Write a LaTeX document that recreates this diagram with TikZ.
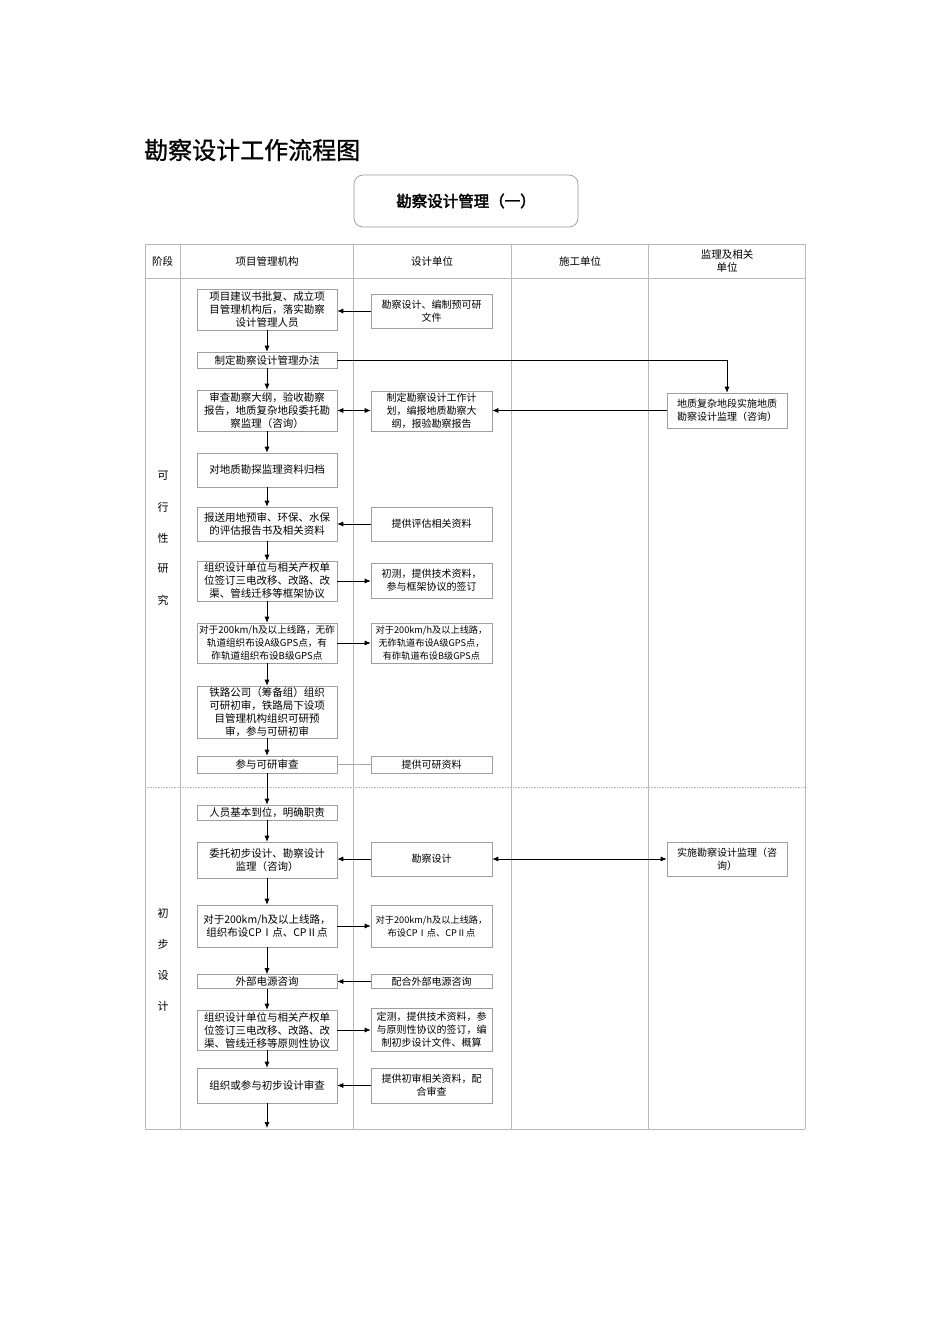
\documentclass[tikz,border=0pt]{standalone}
\usepackage{fontspec}
\setmainfont{Noto Sans CJK SC}
\newfontfamily\cjkbold[FakeBold=2.5]{Noto Sans CJK SC}
\newfontfamily\cjktitle[FakeBold=1]{Noto Sans CJK SC}
\usetikzlibrary{arrows.meta}
\tikzset{
  tline/.style={draw=gray!55, line width=0.6pt},
  box/.style={draw=gray!75, line width=0.6pt, align=center, inner sep=1pt, fill=white},
  lbox/.style={box, minimum width=140pt, font=\fontsize{10.5}{13}\selectfont},
  mbox/.style={box, minimum width=121pt, font=\fontsize{10}{13}\selectfont},
  rbox/.style={box, minimum width=120pt, font=\fontsize{10}{13}\selectfont},
  arr/.style={draw=black, line width=0.7pt, -{Latex[length=6pt,width=5pt]}},
  darr/.style={draw=black, line width=0.7pt, {Latex[length=6pt,width=5pt]}-{Latex[length=6pt,width=5pt]}},
  plain/.style={draw=gray!70, line width=0.6pt},
  phase/.style={font=\fontsize{11}{13}\selectfont},
  head/.style={font=\fontsize{10.5}{13}\selectfont, align=center}
}
\begin{document}
\begin{tikzpicture}[x=1pt,y=-1pt]
\useasboundingbox (0,0) rectangle (950,1344);
% title
\node[anchor=west, font=\cjktitle\fontsize{24}{28}\selectfont, inner sep=0] (title) at (144,150) {勘察设计工作流程图};
\node[draw=gray!80, line width=0.7pt, rounded corners=9pt, minimum width=224pt, minimum height=52pt, font=\cjkbold\fontsize{15.5}{18}\selectfont] (hdr) at (466,201) {勘察设计管理（一）};
% table frame
\draw[tline] (145,244) -- (805,244);
\draw[tline] (145,278) -- (805,278);
\draw[tline] (145,1129) -- (805,1129);
\foreach \x in {145,180,353,511,648,805} \draw[tline] (\x,244) -- (\x,1129);
\draw[draw=gray!55, line width=0.6pt, densely dotted] (145,787) -- (805,787);
% headers
\node[head] (h0) at (162.5,261) {阶段};
\node[head] (h1) at (267,261) {项目管理机构};
\node[head] (h2) at (432,261) {设计单位};
\node[head] (h3) at (580,261) {施工单位};
\node[head] (h4) at (727,261) {监理及相关\\单位};
% phase labels
\foreach \c/\y [count=\i] in {可/476,行/507,性/538,研/569,究/600}
  \node[phase] (pa\i) at (163,\y) {\c};
\foreach \c/\y [count=\i] in {初/913,步/944,设/975,计/1006}
  \node[phase] (pb\i) at (163,\y) {\c};
% left column
\node[lbox, minimum height=41pt] (L1) at (267,309.5) {项目建议书批复、成立项\\目管理机构后，落实勘察\\设计管理人员};
\node[lbox, minimum height=16pt] (L2) at (267,360) {制定勘察设计管理办法};
\node[lbox, minimum height=41pt] (L3) at (267,410.5) {审查勘察大纲，验收勘察\\报告，地质复杂地段委托勘\\察监理（咨询）};
\node[lbox, minimum height=34pt] (L4) at (267,470) {对地质勘探监理资料归档};
\node[lbox, minimum height=34pt] (L5) at (267,524) {报送用地预审、环保、水保\\的评估报告书及相关资料};
\node[lbox, minimum height=40pt] (L6) at (267,581) {组织设计单位与相关产权单\\位签订三电改移、改路、改\\渠、管线迁移等框架协议};
\node[lbox, minimum height=40pt, font=\fontsize{9.6}{13}\selectfont] (L7) at (267,643) {对于200km/h及以上线路，无砟\\轨道组织布设A级GPS点，有\\砟轨道组织布设B级GPS点};
\node[lbox, minimum height=52pt] (L8) at (267,712) {铁路公司（筹备组）组织\\可研初审，铁路局下设项\\目管理机构组织可研预\\审，参与可研初审};
\node[lbox, minimum height=17pt] (L9) at (267,764.5) {参与可研审查};
\node[lbox, minimum height=15pt] (L10) at (267,812.5) {人员基本到位，明确职责};
\node[lbox, minimum height=36pt] (L11) at (267,860) {委托初步设计、勘察设计\\监理（咨询）};
\node[lbox, minimum height=42pt] (L12) at (267,926) {对于200km/h及以上线路，\\组织布设CPⅠ点、CPⅡ点};
\node[lbox, minimum height=14pt] (L13) at (267,981.5) {外部电源咨询};
\node[lbox, minimum height=40pt] (L14) at (267,1030) {组织设计单位与相关产权单\\位签订三电改移、改路、改\\渠、管线迁移等原则性协议};
\node[lbox, minimum height=35pt] (L15) at (267,1085.5) {组织或参与初步设计审查};
\coordinate (Lend) at (267,1128);
% middle column
\node[mbox, minimum height=34pt] (M1) at (431.5,311) {勘察设计、编制预可研\\文件};
\node[mbox, minimum height=40pt] (M3) at (431.5,411) {制定勘察设计工作计\\划，编报地质勘察大\\纲，报验勘察报告};
\node[mbox, minimum height=34pt] (M5) at (431.5,524) {提供评估相关资料};
\node[mbox, minimum height=35pt] (M6) at (431.5,580.5) {初测，提供技术资料，\\参与框架协议的签订};
\node[mbox, minimum height=40pt, font=\fontsize{9.2}{13}\selectfont] (M7) at (431.5,643) {对于200km/h及以上线路，\\无砟轨道布设A级GPS点，\\有砟轨道布设B级GPS点};
\node[mbox, minimum height=17pt] (M9) at (431.5,764.5) {提供可研资料};
\node[mbox, minimum height=34pt] (M11) at (431.5,859) {勘察设计};
\node[mbox, minimum height=42pt, font=\fontsize{9.2}{13}\selectfont] (M12) at (431.5,926) {对于200km/h及以上线路，\\布设CPⅠ点、CPⅡ点};
\node[mbox, minimum height=14pt] (M13) at (431.5,981.5) {配合外部电源咨询};
\node[mbox, minimum height=43pt] (M14) at (431.5,1029.5) {定测，提供技术资料，参\\与原则性协议的签订，编\\制初步设计文件、概算};
\node[mbox, minimum height=35pt] (M15) at (431.5,1085.5) {提供初审相关资料，配\\合审查};
% right column
\node[rbox, minimum height=35pt] (R3) at (727,410.5) {地质复杂地段实施地质\\勘察设计监理（咨询）};
\node[rbox, minimum height=34pt] (R11) at (727,859) {实施勘察设计监理（咨\\询）};
% vertical chain
\draw[arr] (L1.south) -- (L2.north);
\draw[arr] (L2.south) -- (L3.north);
\draw[arr] (L3.south) -- (L4.north);
\draw[arr] (L4.south) -- (L5.north);
\draw[arr] (L5.south) -- (L6.north);
\draw[arr] (L6.south) -- (L7.north);
\draw[arr] (L7.south) -- (L8.north);
\draw[arr] (L8.south) -- (L9.north);
\draw[arr] (L9.south) -- (L10.north);
\draw[arr] (L10.south) -- (L11.north);
\draw[arr] (L11.south) -- (L12.north);
\draw[arr] (L12.south) -- (L13.north);
\draw[arr] (L13.south) -- (L14.north);
\draw[arr] (L14.south) -- (L15.north);
\draw[arr] (L15.south) -- (Lend);
% horizontal connectors
\draw[arr] (M1.west) -- (M1.west -| L1.east);
\draw[arr] (L2.east) -| (R3.north);
\draw[darr] (L3.east) -- (L3.east -| M3.west);
\draw[arr] (R3.west) -- (R3.west -| M3.east);
\draw[arr] (M5.west) -- (M5.west -| L5.east);
\draw[arr] (L6.east) -- (L6.east -| M6.west);
\draw[arr] (L7.east) -- (L7.east -| M7.west);
\draw[plain] (L9.east) -- (M9.west);
\draw[arr] (M11.west) -- (M11.west -| L11.east);
\draw[darr] (M11.east) -- (R11.west);
\draw[arr] (L12.east) -- (L12.east -| M12.west);
\draw[arr] (M13.west) -- (M13.west -| L13.east);
\draw[arr] (L14.east) -- (L14.east -| M14.west);
\draw[arr] (M15.west) -- (M15.west -| L15.east);
\end{tikzpicture}
\end{document}
